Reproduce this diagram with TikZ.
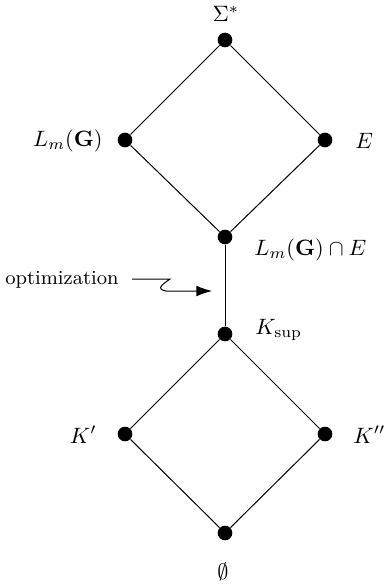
\documentclass[tikz,border=0pt]{standalone}
\usetikzlibrary{arrows.meta}
\begin{document}
\begin{tikzpicture}[x=0.45pt,y=-0.45pt,
  dot/.style={circle,fill=black,inner sep=0pt,minimum size=6.6pt},
  edge/.style={line width=0.45pt},
  lbl/.style={inner sep=0pt}]
\useasboundingbox (0,0) rectangle (384,587);
% vertices
\node[dot] (sig) at (225,40) {};
\node[dot] (lg) at (125,140) {};
\node[dot] (e) at (325,140) {};
\node[dot] (cap) at (225,237) {};
\node[dot] (ks) at (225,334) {};
\node[dot] (k1) at (125,434) {};
\node[dot] (k2) at (325,434) {};
\node[dot] (empty) at (225,533) {};
% edges
\draw[edge] (sig) -- (lg);
\draw[edge] (sig) -- (e);
\draw[edge] (lg) -- (cap);
\draw[edge] (e) -- (cap);
\draw[edge] (cap) -- (ks);
\draw[edge] (ks) -- (k1);
\draw[edge] (ks) -- (k2);
\draw[edge] (k1) -- (empty);
\draw[edge] (k2) -- (empty);
% labels
\node[lbl,anchor=base] (tsig) at (226,22) {$\Sigma^*$};
\node[lbl,anchor=base east] (tlg) at (103,146) {$L_m(\mathbf{G})$};
\node[lbl,anchor=base west] (te) at (355,148) {$E$};
\node[lbl,anchor=base west] (tcap) at (254,255) {$L_m(\mathbf{G})\cap E$};
\node[lbl,anchor=base west] (tks) at (255,334) {$K_{\mathrm{sup}}$};
\node[lbl,anchor=base east] (tk1) at (97,443) {$K'$};
\node[lbl,anchor=base west] (tk2) at (353,443) {$K''$};
\node[lbl] (tempty) at (223,572) {$\emptyset$};
\node[lbl,anchor=base west,font=\small] (topt) at (5,284) {optimization};
% arrow
\coordinate (a0) at (132,279);
\coordinate (a1) at (170,279);
\coordinate (a2) at (212,291);
\draw[edge,-{Latex[length=7pt,width=4.8pt]}] (a0) -- (a1)
  .. controls (163,284) and (155,289) .. (166,291) -- (a2);
\end{tikzpicture}
\end{document}
